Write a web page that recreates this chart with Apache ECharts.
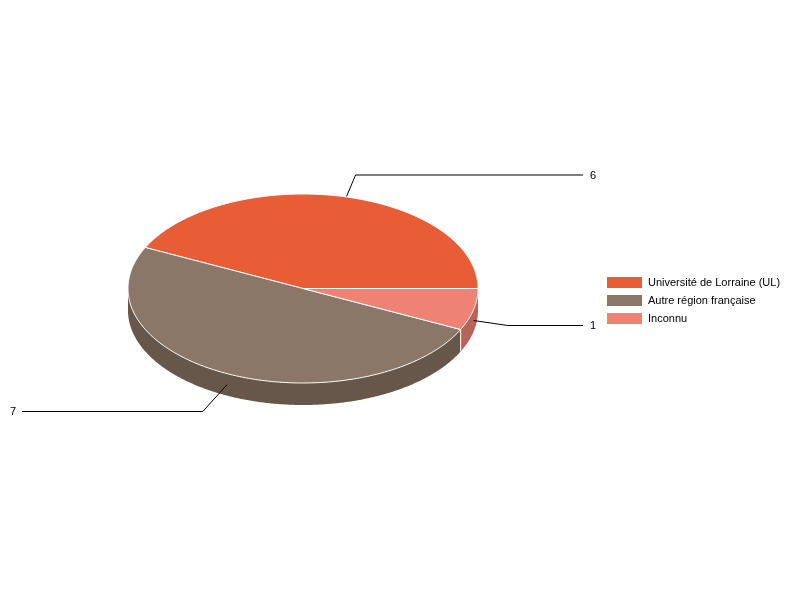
<!DOCTYPE html>
<html><head><meta charset="utf-8">
<style>html,body{margin:0;padding:0;background:#fff}#c{width:800px;height:600px}</style>
<script src="https://cdn.jsdelivr.net/npm/echarts@6/dist/echarts.min.js"></script>
</head><body><div id="c"></div>
<script>
const categories = ['Université de Lorraine (UL)', 'Autre région française', 'Inconnu'];
const values = [6, 7, 1];
const topColors = ['#E95D36', '#8A7767', '#EE8375'];
const wallColors = ['#A5412A', '#67574A', '#B5645C'];
const elbowFactorsX = [1.35, 1.32, 1.2];
const elbowFactorsY = [1.35, 1.316, 1.236];

const CX = 303, CY = 288.5, RX = 175, RY = 94.5, DEPTH = 22;
const RIGHT_END = 583, LEFT_END = 22, LABEL_GAP = 7;
const total = values.reduce((a, b) => a + b, 0);
const rad = d => d * Math.PI / 180;
const px = d => CX + RX * Math.cos(rad(d));
const py = d => CY - RY * Math.sin(rad(d));
const startOf = i => values.slice(0, i).reduce((a, b) => a + b, 0) / total * 360;

function arcPoints(a0, a1, dy) {
  const pts = [], n = Math.max(2, Math.ceil(Math.abs(a1 - a0) * 2));
  for (let k = 0; k <= n; k++) {
    const a = a0 + (a1 - a0) * k / n;
    pts.push([px(a), py(a) + dy]);
  }
  return pts;
}

function renderSlice(params, api) {
  const i = params.seriesIndex;
  const a0 = startOf(i), a1 = a0 + api.value(0) / total * 360, mid = (a0 + a1) / 2;
  const children = [];

  const lo = Math.max(a0, 180), hi = Math.min(a1, 360);
  if (hi > lo) {
    children.push({
      type: 'polygon', z2: 1,
      shape: { points: arcPoints(lo, hi, 0).concat(arcPoints(hi, lo, DEPTH)) },
      style: { fill: wallColors[i] }
    });
  }
  if (a1 > 180 && a1 < 360) {
    children.push({
      type: 'line', z2: 3,
      shape: { x1: px(a1), y1: py(a1), x2: px(a1), y2: py(a1) + DEPTH },
      style: { stroke: '#fff', lineWidth: 1 }
    });
  }

  const sx = px(mid), sy = py(mid) + DEPTH / 2;
  const ex = CX + (sx - CX) * elbowFactorsX[i];
  const ey = Math.round((CY + DEPTH / 2 + (py(mid) - CY) * elbowFactorsY[i]) * 2) / 2;
  const right = Math.cos(rad(mid)) >= 0;
  const endX = right ? RIGHT_END : LEFT_END;
  children.push({
    type: 'polyline', z2: 5,
    shape: { points: [[sx, sy], [ex, ey], [endX, ey]] },
    style: { stroke: '#000', lineWidth: 1, fill: null }
  });
  children.push({
    type: 'text', z2: 6,
    style: {
      x: endX + (right ? LABEL_GAP : -LABEL_GAP - 2), y: Math.floor(ey) + 1,
      text: String(api.value(0)),
      fill: '#000', font: '11px "Liberation Sans", Arial, sans-serif',
      align: right ? 'left' : 'center', verticalAlign: 'middle'
    }
  });

  children.push({
    type: 'polygon', z2: 10,
    shape: { points: [[CX, CY]].concat(arcPoints(a0, a1, 0)) },
    style: { fill: topColors[i], stroke: '#fff', lineWidth: 1, lineJoin: 'round' }
  });
  return { type: 'group', children };
}

const chart = echarts.init(document.getElementById('c'), null, { renderer: 'canvas' });
chart.setOption({
  animation: false,
  backgroundColor: '#fff',
  legend: {
    orient: 'vertical', left: 607, top: 276.5,
    itemWidth: 35, itemHeight: 11, itemGap: 6,
    icon: 'rect', selectedMode: false,
    padding: 0,
    textStyle: { fontFamily: '"Liberation Sans", Arial, sans-serif', fontSize: 11, color: '#000', padding: [1, 0, 0, 1], lineHeight: 11 },
    data: categories
  },
  series: categories.map((name, i) => ({
    type: 'custom', name, coordinateSystem: 'none',
    color: topColors[i],
    itemStyle: { color: topColors[i] },
    silent: true,
    renderItem: renderSlice,
    data: [[values[i]]]
  }))
});
</script></body></html>
